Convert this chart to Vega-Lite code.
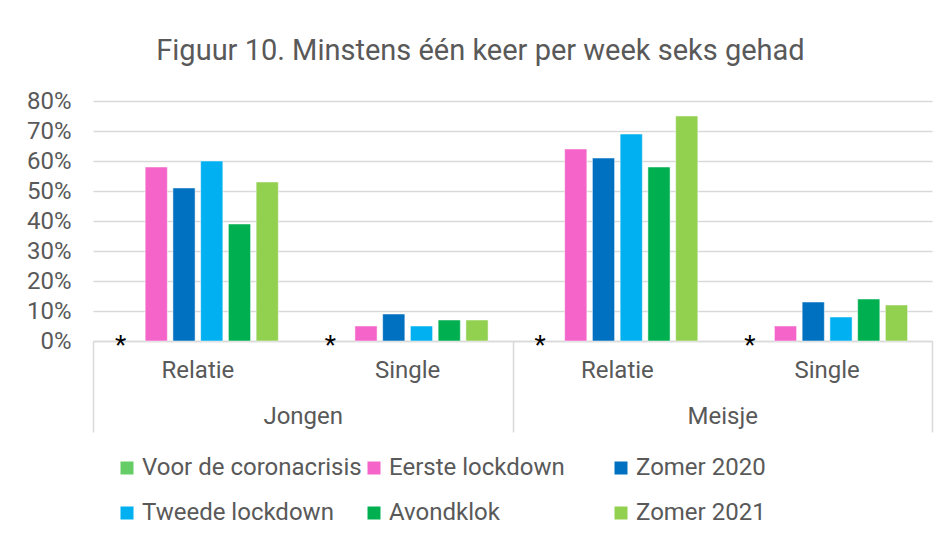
{
  "$schema": "https://vega.github.io/schema/vega-lite/v6.json",
  "width": 839,
  "height": 240,
  "autosize": {"type": "none"},
  "padding": {"left": 93, "top": 101, "right": 10, "bottom": 198},
  "background": "white",
  "config": {
    "font": "Roboto",
    "view": {"stroke": null},
    "axis": {"labelFont": "Roboto", "labelColor": "#595959", "labelFontSize": 24},
    "axisY": {"labelOverlap": false, "labelFlush": false}
  },
  "title": {
    "text": "Figuur 10. Minstens één keer per week seks gehad",
    "font": "Roboto",
    "fontSize": 29,
    "fontWeight": "normal",
    "color": "#595959",
    "anchor": "middle",
    "frame": "group",
    "dx": -32,
    "offset": 23
  },
  "data": {
    "values": [
      {"geslacht": "Jongen", "groep": "Jongen|Relatie", "serie": "Voor de coronacrisis", "waarde": null, "label": "*"},
      {"geslacht": "Jongen", "groep": "Jongen|Relatie", "serie": "Eerste lockdown", "waarde": 58, "label": ""},
      {"geslacht": "Jongen", "groep": "Jongen|Relatie", "serie": "Zomer 2020", "waarde": 51, "label": ""},
      {"geslacht": "Jongen", "groep": "Jongen|Relatie", "serie": "Tweede lockdown", "waarde": 60, "label": ""},
      {"geslacht": "Jongen", "groep": "Jongen|Relatie", "serie": "Avondklok", "waarde": 39, "label": ""},
      {"geslacht": "Jongen", "groep": "Jongen|Relatie", "serie": "Zomer 2021", "waarde": 53, "label": ""},
      {"geslacht": "Jongen", "groep": "Jongen|Single", "serie": "Voor de coronacrisis", "waarde": null, "label": "*"},
      {"geslacht": "Jongen", "groep": "Jongen|Single", "serie": "Eerste lockdown", "waarde": 5, "label": ""},
      {"geslacht": "Jongen", "groep": "Jongen|Single", "serie": "Zomer 2020", "waarde": 9, "label": ""},
      {"geslacht": "Jongen", "groep": "Jongen|Single", "serie": "Tweede lockdown", "waarde": 5, "label": ""},
      {"geslacht": "Jongen", "groep": "Jongen|Single", "serie": "Avondklok", "waarde": 7, "label": ""},
      {"geslacht": "Jongen", "groep": "Jongen|Single", "serie": "Zomer 2021", "waarde": 7, "label": ""},
      {"geslacht": "Meisje", "groep": "Meisje|Relatie", "serie": "Voor de coronacrisis", "waarde": null, "label": "*"},
      {"geslacht": "Meisje", "groep": "Meisje|Relatie", "serie": "Eerste lockdown", "waarde": 64, "label": ""},
      {"geslacht": "Meisje", "groep": "Meisje|Relatie", "serie": "Zomer 2020", "waarde": 61, "label": ""},
      {"geslacht": "Meisje", "groep": "Meisje|Relatie", "serie": "Tweede lockdown", "waarde": 69, "label": ""},
      {"geslacht": "Meisje", "groep": "Meisje|Relatie", "serie": "Avondklok", "waarde": 58, "label": ""},
      {"geslacht": "Meisje", "groep": "Meisje|Relatie", "serie": "Zomer 2021", "waarde": 75, "label": ""},
      {"geslacht": "Meisje", "groep": "Meisje|Single", "serie": "Voor de coronacrisis", "waarde": null, "label": "*"},
      {"geslacht": "Meisje", "groep": "Meisje|Single", "serie": "Eerste lockdown", "waarde": 5, "label": ""},
      {"geslacht": "Meisje", "groep": "Meisje|Single", "serie": "Zomer 2020", "waarde": 13, "label": ""},
      {"geslacht": "Meisje", "groep": "Meisje|Single", "serie": "Tweede lockdown", "waarde": 8, "label": ""},
      {"geslacht": "Meisje", "groep": "Meisje|Single", "serie": "Avondklok", "waarde": 14, "label": ""},
      {"geslacht": "Meisje", "groep": "Meisje|Single", "serie": "Zomer 2021", "waarde": 12, "label": ""}
    ]
  },
  "layer": [
    {
      "layer": [
        {
          "mark": {"type": "bar", "stroke": "white", "strokeWidth": 0.5},
          "encoding": {
            "x": {
              "field": "groep",
              "type": "nominal",
              "sort": ["Jongen|Relatie", "Jongen|Single", "Meisje|Relatie", "Meisje|Single"],
              "scale": {"paddingInner": 0, "paddingOuter": 0},
              "axis": {
                "orient": "bottom",
                "title": null,
                "labelAngle": 0,
                "labelExpr": "split(datum.label, '|')[1]",
                "ticks": false,
                "tickSize": 0,
                "labelPadding": 17,
                "domain": true,
                "domainColor": "#d9d9d9",
                "domainWidth": 1.5,
                "grid": false
              }
            },
            "xOffset": {
              "field": "serie",
              "type": "nominal",
              "sort": ["Voor de coronacrisis", "Eerste lockdown", "Zomer 2020", "Tweede lockdown", "Avondklok", "Zomer 2021"],
              "scale": {"paddingInner": 0.2, "paddingOuter": 0.88}
            },
            "y": {
              "field": "waarde",
              "type": "quantitative",
              "scale": {"domain": [0, 80], "nice": false},
              "axis": {
                "title": null,
                "values": [0, 10, 20, 30, 40, 50, 60, 70, 80],
                "tickCount": 9,
                "labelExpr": "datum.value + '%'",
                "labelOverlap": false,
                "domain": false,
                "ticks": false,
                "labelPadding": 22,
                "gridColor": "#d9d9d9",
                "gridWidth": 1.5
              }
            },
            "color": {
              "field": "serie",
              "type": "nominal",
              "scale": {
                "domain": ["Voor de coronacrisis", "Eerste lockdown", "Zomer 2020", "Tweede lockdown", "Avondklok", "Zomer 2021"],
                "range": ["#66cc66", "#f564c8", "#0070c0", "#00b0f0", "#00b050", "#92d050"]
              },
              "legend": {
                "title": null,
                "orient": "none",
                "legendX": 22,
                "legendY": 355,
                "direction": "horizontal",
                "columns": 3,
                "gridAlign": "all",
                "columnPadding": -8,
                "rowPadding": 21,
                "padding": 0,
                "symbolType": "square",
                "symbolSize": 169,
                "symbolStrokeWidth": 0,
                "labelFont": "Roboto",
                "labelFontSize": 24,
                "labelColor": "#595959",
                "labelLimit": 400,
                "labelOffset": 3
              }
            }
          }
        },
        {
          "transform": [{"filter": "datum.label == '*'"}],
          "mark": {"type": "text", "fontSize": 26, "color": "black", "baseline": "alphabetic", "dy": 13, "dx": -8, "font": "Roboto"},
          "encoding": {
            "x": {"field": "groep", "type": "nominal", "sort": ["Jongen|Relatie", "Jongen|Single", "Meisje|Relatie", "Meisje|Single"]},
            "xOffset": {"field": "serie", "type": "nominal", "sort": ["Voor de coronacrisis", "Eerste lockdown", "Zomer 2020", "Tweede lockdown", "Avondklok", "Zomer 2021"]},
            "y": {
              "datum": 0,
              "type": "quantitative",
              "axis": {
                "title": null,
                "values": [0, 10, 20, 30, 40, 50, 60, 70, 80],
                "tickCount": 9,
                "labelExpr": "datum.value + '%'",
                "labelOverlap": false,
                "domain": false,
                "ticks": false,
                "labelPadding": 22,
                "gridColor": "#d9d9d9",
                "gridWidth": 1.5
              }
            },
            "text": {"field": "label"}
          }
        }
      ]
    },
    {
      "mark": {"type": "point", "opacity": 0},
      "encoding": {
        "x": {
          "field": "geslacht",
          "type": "nominal",
          "sort": ["Jongen", "Meisje"],
          "scale": {"paddingInner": 0, "paddingOuter": 0},
          "axis": {
            "orient": "bottom",
            "title": null,
            "labelAngle": 0,
            "domain": false,
            "grid": false,
            "ticks": true,
            "tickBand": "extent",
            "tickSize": 91,
            "tickColor": "#d9d9d9",
            "tickWidth": 1.5,
            "labelPadding": -28
          }
        }
      }
    }
  ],
  "resolve": {"scale": {"x": "independent", "xOffset": "independent"}, "axis": {"x": "independent"}}
}
